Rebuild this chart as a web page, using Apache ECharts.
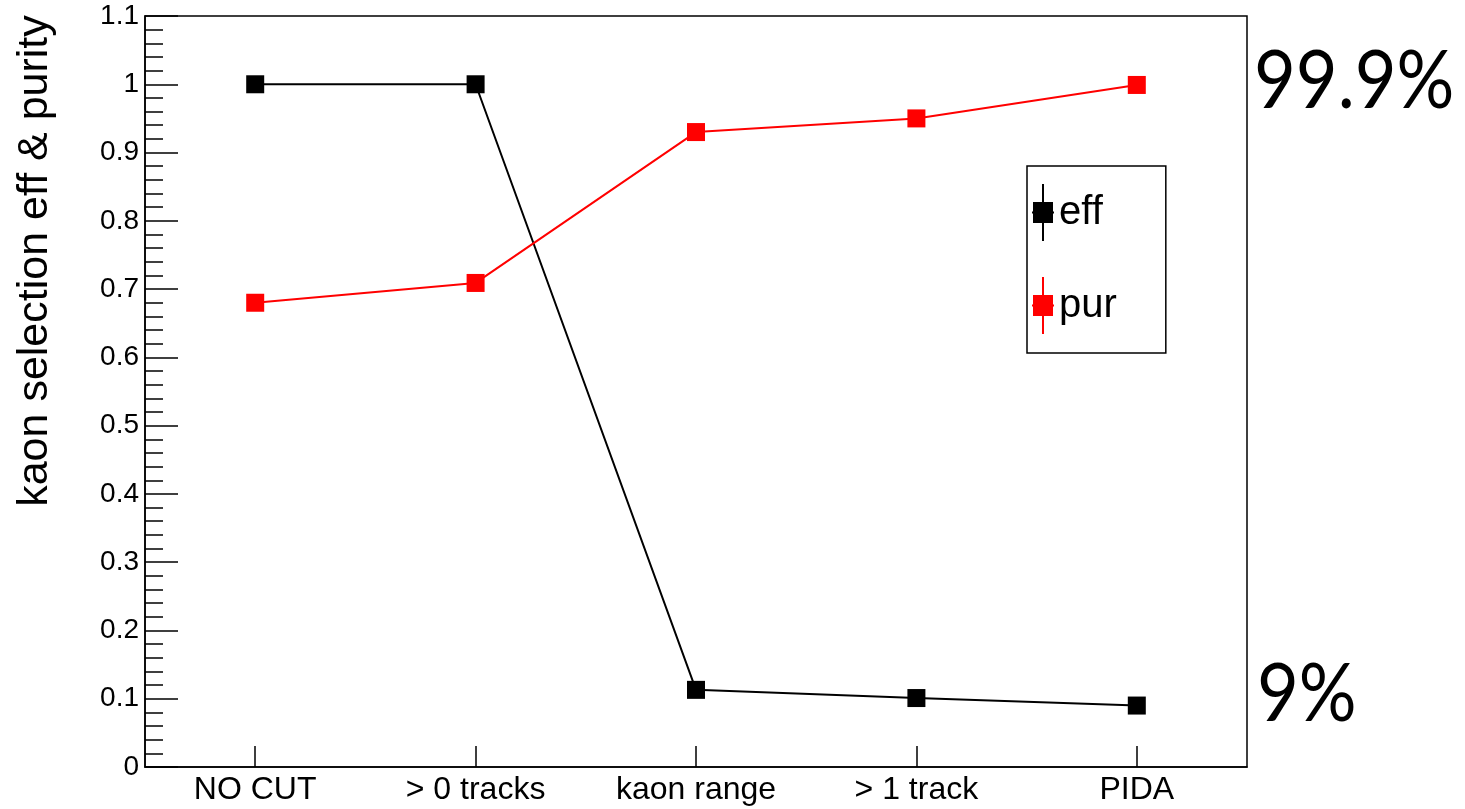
<!DOCTYPE html>
<html>
<head>
<meta charset="utf-8">
<script src="https://cdn.jsdelivr.net/npm/echarts@6/dist/echarts.min.js"></script>
<style>
  html, body { margin: 0; padding: 0; background: #fff; }
  #chart { width: 1465px; height: 809px; }
</style>
</head>
<body>
<div id="chart"></div>
<script>
// Selection steps along the cut flow
const cuts = ['NO CUT', '> 0 tracks', 'kaon range', '> 1 track', 'PIDA'];
// Kaon selection efficiency after each cut
const eff = [1.0, 1.0, 0.113, 0.101, 0.09];
// Kaon sample purity after each cut
const pur = [0.68, 0.709, 0.93, 0.95, 0.999];
// Summary numbers printed beside the frame
const purSummary = '99.9%';
const effSummary = '9%';

const FONT = '"Liberation Sans", Arial, Helvetica, sans-serif';

// Marker with error-bar cross, used as legend icon
const markerIcon = 'path://M10,0 L12,0 L12,18 L21,18 L21,27.5 L22,27.5 L22,29.5 L21,29.5 L21,39 L12,39 L12,57 L10,57 L10,39 L1,39 L1,29.5 L0,29.5 L0,27.5 L1,27.5 L1,18 L10,18 Z';

const chart = echarts.init(document.getElementById('chart'), null, { renderer: 'canvas' });

chart.setOption({
  backgroundColor: '#ffffff',
  animation: false,
  grid: {
    left: 145, right: 218, top: 16, bottom: 42,
    show: true, borderColor: '#000', borderWidth: 1.5, backgroundColor: 'transparent'
  },
  legend: {
    orient: 'vertical',
    left: 1027, top: 166,
    padding: [18, 49, 19, 5],
    itemGap: 36,
    itemWidth: 22, itemHeight: 57,
    borderColor: '#000', borderWidth: 1.5,
    icon: markerIcon,
    textStyle: { fontFamily: FONT, fontSize: 40, color: '#000', padding: [0, 0, 0, 0] },
    data: ['eff', 'pur']
  },
  xAxis: {
    type: 'category',
    data: cuts,
    boundaryGap: true,
    axisLine: { show: true, lineStyle: { color: '#000', width: 1.5 } },
    axisTick: { show: true, inside: true, alignWithLabel: true, length: 21, lineStyle: { color: '#000', width: 1.5 } },
    axisLabel: { fontFamily: FONT, fontSize: 32, color: '#000', margin: 7 },
    splitLine: { show: false }
  },
  yAxis: {
    type: 'value',
    min: 0, max: 1.1, interval: 0.1,
    axisLine: { show: true, lineStyle: { color: '#000', width: 1.5 } },
    axisTick: { show: true, inside: true, length: 33, lineStyle: { color: '#000', width: 1.5 } },
    minorTick: { show: true, splitNumber: 5, length: 18, lineStyle: { color: '#000', width: 1.5 } },
    axisLabel: {
      fontFamily: FONT, fontSize: 28, color: '#000', margin: 6,
      formatter: v => String(parseFloat(v.toFixed(1)))
    },
    splitLine: { show: false }
  },
  graphic: [
    {
      type: 'text',
      x: 35, y: 261,
      rotation: Math.PI / 2,
      style: {
        text: 'kaon selection eff & purity',
        font: '43px ' + FONT,
        fill: '#000',
        align: 'center',
        verticalAlign: 'middle'
      }
    },
    {
      type: 'text',
      x: 1254, y: 82,
      scaleX: 0.88,
      style: {
        text: purSummary,
        font: '82px Lato, "Open Sans", sans-serif',
        fill: '#000',
        align: 'left',
        verticalAlign: 'middle'
      }
    },
    {
      type: 'text',
      x: 1257, y: 695,
      scaleX: 0.88,
      style: {
        text: effSummary,
        font: '82px Lato, "Open Sans", sans-serif',
        fill: '#000',
        align: 'left',
        verticalAlign: 'middle'
      }
    }
  ],
  series: [
    {
      name: 'eff',
      type: 'line',
      data: eff,
      symbol: 'rect',
      symbolSize: 18,
      itemStyle: { color: '#000' },
      lineStyle: { color: '#000', width: 2 },
      z: 2
    },
    {
      name: 'pur',
      type: 'line',
      data: pur,
      symbol: 'rect',
      symbolSize: 18,
      itemStyle: { color: '#ff0000' },
      lineStyle: { color: '#ff0000', width: 2 },
      z: 3
    }
  ]
});
</script>
</body>
</html>
